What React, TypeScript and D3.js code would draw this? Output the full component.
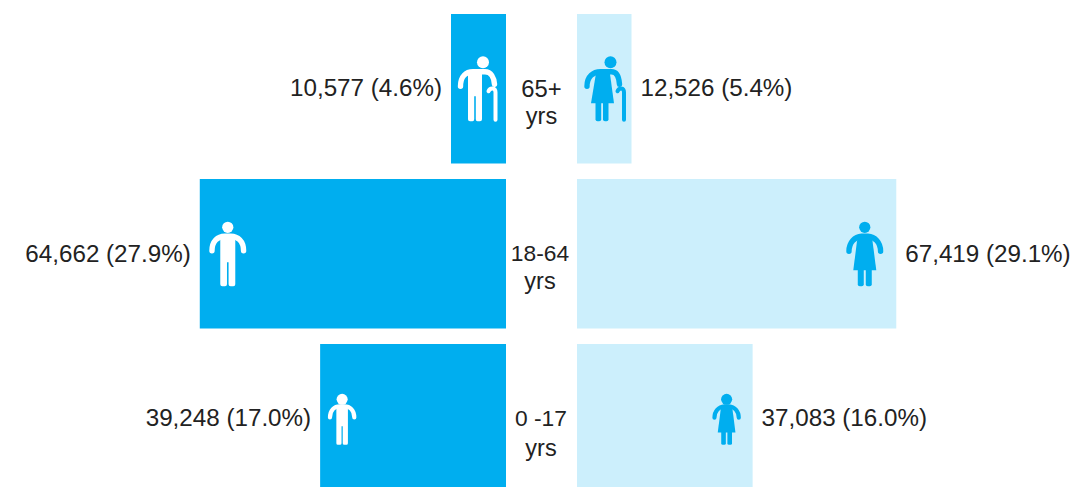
import * as d3 from "d3"

const ageGroups = ["65+", "18-64", "0 -17"]
const maleValues = [10577, 64662, 39248]
const femaleValues = [12526, 67419, 37083]
const malePct = [4.6, 27.9, 17.0]
const femalePct = [5.4, 29.1, 16.0]
const maleBarLengths = [11614, 64662, 39248]
const femaleBarLengths = [11508, 67419, 37083]

const width = 1077
const height = 487
const maleBase = 506
const femaleBase = 577
const maxLength = 331.5

const MALE_COLOR = "#00aeef"
const FEMALE_COLOR = "#cceffc"
const TEXT_COLOR = "#222222"
const FONT = "'Liberation Sans', Arial, sans-serif"

const fmt = d3.format(",")

// all icons drawn around the head centre
function Man({ color, head = 5.6 }: { color: string; head?: number }) {
  return (
    <g fill={color}>
      <circle r={head} />
      <path
        d="M-15.8,23.5 C-15.8,14 -10,9 -3,9 L3,9 C10,9 15.8,14 15.8,23.5"
        fill="none"
        stroke={color}
        strokeWidth={5.4}
        strokeLinecap="round"
      />
      <path d="M-7.5,9 L7.5,9 L7.5,57 Q7.5,59 5.5,59 L2.8,59 Q0.8,59 0.8,57 L0.8,35 L-0.8,35 L-0.8,57 Q-0.8,59 -2.8,59 L-5.5,59 Q-7.5,59 -7.5,57 Z" />
    </g>
  )
}

function Woman({ color, head = 5.6 }: { color: string; head?: number }) {
  return (
    <g fill={color}>
      <circle r={head} />
      <path
        d="M-15.8,24 C-15.8,15 -10,9.5 -3,9 L3,9 C10,9.5 15.8,15 15.8,24"
        fill="none"
        stroke={color}
        strokeWidth={5.4}
        strokeLinecap="round"
      />
      <path d="M-7,8 L7,8 L11.5,43 L-11.5,43 Z" />
      <path d="M-7,42 L-1,42 L-1,57 Q-1,59 -3,59 L-5,59 Q-7,59 -7,57 Z" />
      <path d="M1,42 L7,42 L7,57 Q7,59 5,59 L3,59 Q1,59 1,57 Z" />
    </g>
  )
}

function OldMan({ color }: { color: string }) {
  return (
    <g fill={color}>
      <circle r={6} />
      <path
        d="M-22.5,24 C-22.5,14 -17,9.5 -10,9.5 L2,9.5 C8,9.5 11,15 11.5,22"
        fill="none"
        stroke={color}
        strokeWidth={5.4}
        strokeLinecap="round"
      />
      <path d="M-15,8 L-1,8 L-1,57 Q-1,59 -3,59 L-5.5,59 Q-7.2,59 -7.2,57 L-7.2,34 L-8.8,34 L-8.8,57 Q-8.8,59 -10.5,59 L-13,59 Q-15,59 -15,57 Z" />
      <path
        d="M5.5,29 C7,25 12.5,25 12.5,30 L12.5,57.5"
        fill="none"
        stroke={color}
        strokeWidth={4}
        strokeLinecap="round"
      />
    </g>
  )
}

function OldWoman({ color }: { color: string }) {
  return (
    <g fill={color}>
      <circle r={6} />
      <path
        d="M-23.5,24 C-23.5,14 -17,9.5 -10,9.5 L1,9.5 C6,9.5 8.5,15 9,22"
        fill="none"
        stroke={color}
        strokeWidth={5.4}
        strokeLinecap="round"
      />
      <path d="M-14,8 L-1,8 L3.5,41 L-19.5,41 Z" />
      <path d="M-15,40 L-9.3,40 L-9.3,57 Q-9.3,59 -11.3,59 L-13,59 Q-15,59 -15,57 Z" />
      <path d="M-7.5,40 L-2,40 L-2,57 Q-2,59 -4,59 L-5.5,59 Q-7.5,59 -7.5,57 Z" />
      <path
        d="M7,29 C8.5,25 13.5,25 13.5,30 L13.5,57.5"
        fill="none"
        stroke={color}
        strokeWidth={4}
        strokeLinecap="round"
      />
    </g>
  )
}

export default function App() {
  const y = d3.scaleBand<string>().domain(ageGroups).range([14, 14 + 165 * 2 + 149.5]).paddingInner(15.5 / 165).paddingOuter(0)
  const len = d3.scaleLinear().domain([0, 70000]).range([0, maxLength])

  const maleIconDx = [32, 28, 22]
  const femaleIconDx = [21, 31.5, 26]
  const iconDy = [48.3, 48.3, 55.3]
  const labelDy = [82, 83, 82]
  const ageDy = [[83, 110], [82, 110], [82, 112]]
  const ageX = [541.5, 540, 541]
  const ageSize = [23.8, 22.8, 22.8]

  return (
    <svg
      width={width}
      height={height}
      style={{ position: "absolute", left: 0, top: 0, background: "#fff" }}
      fontFamily={FONT}
    >
      {ageGroups.map((age, i) => {
        const top = y(age)!
        const bw = y.bandwidth()
        const mLen = len(maleBarLengths[i])
        const fLen = len(femaleBarLengths[i])
        const mX = maleBase - mLen
        const fEnd = femaleBase + fLen
        const child = i === 2
        const iconM = `translate(${mX + maleIconDx[i]},${top + iconDy[i]})${child ? " scale(0.77)" : ""}`
        const iconF = `translate(${fEnd - femaleIconDx[i]},${top + iconDy[i]})${child ? " scale(0.77)" : ""}`
        return (
          <g key={age}>
            <rect x={mX} y={top} width={mLen} height={bw} fill={MALE_COLOR} />
            <rect x={femaleBase} y={top} width={fLen} height={bw} fill={FEMALE_COLOR} />
            <g transform={iconM}>
              {i === 0 ? <OldMan color="#fff" /> : <Man color="#fff" head={child ? 7.2 : 5.6} />}
            </g>
            <g transform={iconF}>
              {i === 0 ? <OldWoman color={MALE_COLOR} /> : <Woman color={MALE_COLOR} head={child ? 7.2 : 5.6} />}
            </g>
            <text x={mX - 9} y={top + labelDy[i]} textAnchor="end" fontSize={24.2} fill={TEXT_COLOR}>
              {`${fmt(maleValues[i])} (${malePct[i].toFixed(1)}%)`}
            </text>
            <text x={fEnd + 9} y={top + labelDy[i]} fontSize={24.2} fill={TEXT_COLOR}>
              {`${fmt(femaleValues[i])} (${femalePct[i].toFixed(1)}%)`}
            </text>
            <text x={ageX[i]} y={top + ageDy[i][0]} textAnchor="middle" fontSize={ageSize[i]} fill={TEXT_COLOR}>
              {age}
            </text>
            <text x={ageX[i]} y={top + ageDy[i][1]} textAnchor="middle" fontSize={23.5} fill={TEXT_COLOR}>
              yrs
            </text>
          </g>
        )
      })}
    </svg>
  )
}
